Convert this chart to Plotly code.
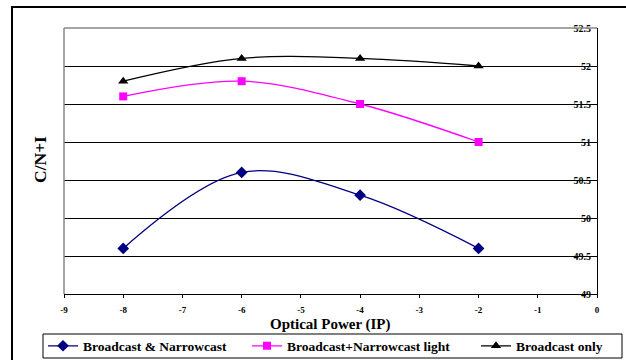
import plotly.graph_objects as go

x_vals = [-8, -6, -4, -2]
bn_vals = [49.6, 50.6, 50.3, 49.6]
bnl_vals = [51.6, 51.8, 51.5, 51.0]
bo_vals = [51.8, 52.1, 52.1, 52.0]
series_names = ["Broadcast & Narrowcast", "Broadcast+Narrowcast light", "Broadcast only"]
x_ticks = [-9, -8, -7, -6, -5, -4, -3, -2, -1, 0]
y_ticks = [49, 49.5, 50, 50.5, 51, 51.5, 52, 52.5]

SERIF = "Liberation Serif, Times New Roman, serif"

# plot area in pixels
L, R, T, B = 64, 597, 28, 294
PW, PH = R - L, B - T


def px_x(p):
    return (p - L) / PW


def px_y(p):
    return (B - p) / PH


fig = go.Figure()
styles = [
    dict(color="#000080", symbol="diamond", size=9, legend="legend"),
    dict(color="#FF00FF", symbol="square", size=8, legend="legend2"),
    dict(color="#000000", symbol="triangle-up", size=9, legend="legend3"),
]
for name, vals, st in zip(series_names, [bn_vals, bnl_vals, bo_vals], styles):
    fig.add_trace(go.Scatter(
        x=x_vals, y=vals, name=name, mode="lines+markers",
        line=dict(color=st["color"], width=1.3, shape="spline", smoothing=1),
        marker=dict(color=st["color"], symbol=st["symbol"], size=st["size"]),
        legend=st["legend"],
    ))

leg_font = dict(family=SERIF, size=13.5, weight="bold", color="black")
leg_common = dict(orientation="h", yanchor="middle", xanchor="left", y=px_y(346),
                  borderwidth=0, bgcolor="rgba(0,0,0,0)", font=leg_font, itemwidth=30)

fig.update_layout(
    width=626, height=360,
    margin=dict(l=L, r=626 - R, t=T, b=360 - B, autoexpand=False),
    paper_bgcolor="white", plot_bgcolor="white",
    font=dict(family=SERIF, color="black"),
    showlegend=True,
    legend=dict(x=px_x(43), **leg_common),
    legend2=dict(x=px_x(247), **leg_common),
    legend3=dict(x=px_x(476), **leg_common),
)
fig.update_xaxes(
    range=[-9, 0], tickvals=x_ticks, ticktext=[str(v) for v in x_ticks],
    showgrid=False, zeroline=False, automargin=False,
    showline=True, linecolor="black", linewidth=1,
    ticks="outside", ticklen=3, tickcolor="black",
    tickfont=dict(family=SERIF, size=9, weight="bold", color="black"),
    ticklabelstandoff=4, ticklabeloverflow="allow",
)
fig.update_yaxes(
    range=[49, 52.5], side="right", tickvals=y_ticks, ticktext=[f"{v:g}" for v in y_ticks],
    showgrid=True, gridcolor="black", gridwidth=1, zeroline=False, automargin=False,
    showline=True, linecolor="black", linewidth=1,
    ticks="inside", ticklen=5, tickcolor="black",
    ticklabelposition="inside", ticklabeloverflow="allow",
    tickfont=dict(family=SERIF, size=10, weight="bold", color="black"),
)
# gray frame on left and top of plot area
fig.add_shape(type="line", xref="x domain", yref="y domain", x0=0, x1=0, y0=0, y1=1,
              line=dict(color="#888888", width=1.5))
fig.add_shape(type="line", xref="x domain", yref="y domain", x0=0, x1=1, y0=1, y1=1,
              line=dict(color="#888888", width=1.5))
# outer chart border
fig.add_shape(type="rect", xref="paper", yref="paper",
              x0=px_x(12), x1=px_x(660), y0=px_y(380), y1=px_y(7),
              line=dict(color="black", width=2), layer="below")
# legend box
fig.add_shape(type="rect", xref="paper", yref="paper",
              x0=px_x(43), x1=px_x(622), y0=px_y(358), y1=px_y(334),
              line=dict(color="black", width=1), fillcolor="rgba(0,0,0,0)", layer="below")
fig.add_annotation(text="C/N+I", xref="paper", yref="paper",
                   x=px_x(40), y=px_y(160), textangle=-90, xanchor="center", yanchor="middle",
                   showarrow=False, font=dict(family=SERIF, size=17.5, weight="bold"))
fig.add_annotation(text="Optical Power (IP)", xref="paper", yref="paper",
                   x=px_x(330), y=px_y(324.5), xanchor="center", yanchor="middle",
                   showarrow=False, font=dict(family=SERIF, size=15, weight="bold"))

fig.write_html("out.html")
